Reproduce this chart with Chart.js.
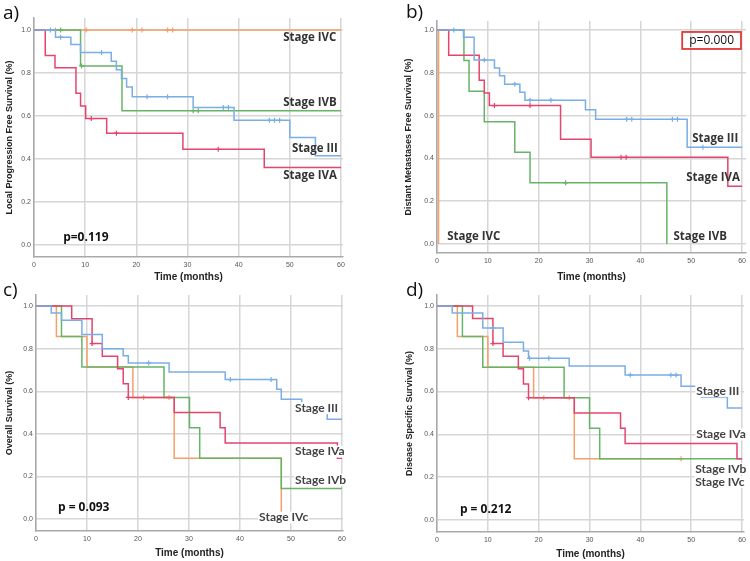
<!DOCTYPE html>
<html>
<head>
<meta charset="utf-8">
<script src="https://cdn.jsdelivr.net/npm/chart.js@4.4.1/dist/chart.umd.min.js"></script>
<style>
  body { margin: 0; background: #fff; }
  #wrap { position: relative; width: 750px; height: 561px; overflow: hidden; }
  canvas { position: absolute; }
  .tag { position: absolute; font: 19px "Open Sans", sans-serif; color: #111; line-height: 1; }
</style>
</head>
<body>
<div id="wrap">
  <canvas id="chartA" width="375" height="285" style="left:0;top:0"></canvas>
  <canvas id="chartB" width="375" height="285" style="left:375px;top:0"></canvas>
  <canvas id="chartC" width="375" height="281" style="left:0;top:280px"></canvas>
  <canvas id="chartD" width="375" height="281" style="left:375px;top:280px"></canvas>
  <div class="tag" style="left:3px;top:3px">a)</div>
  <div class="tag" style="left:406px;top:2px">b)</div>
  <div class="tag" style="left:3px;top:280px">c)</div>
  <div class="tag" style="left:406px;top:280px">d)</div>
</div>
<script>
// months where each curve steps, survival after the step, censored times

// a) local progression free survival
var a_III_t = [0, 4.2, 7.2, 9.1, 15.1, 16.1, 17.1, 18.1, 19.2, 31.1, 39.1, 50, 55, 60];
var a_III_s = [1, 0.967, 0.933, 0.895, 0.855, 0.815, 0.775, 0.735, 0.69, 0.64, 0.58, 0.5, 0.415, 0.415];
var a_III_c = [3.2, 5.2, 13.2, 22.1, 26.1, 37, 38, 46, 47, 48];
var a_IVA_t = [0, 2.2, 4.1, 8.2, 9.1, 10.1, 14.2, 29.1, 45, 60];
var a_IVA_s = [1, 0.882, 0.824, 0.706, 0.647, 0.588, 0.52, 0.445, 0.36, 0.36];
var a_IVA_c = [11.2, 16.1, 36];
var a_IVB_t = [0, 9.1, 17.2, 60];
var a_IVB_s = [1, 0.833, 0.625, 0.625];
var a_IVB_c = [5.2, 9.3, 31.1, 32.1];
var a_IVC_t = [0, 60];
var a_IVC_s = [1, 1];
var a_IVC_c = [4.2, 10.2, 19.2, 21.1, 26.1, 27.1];

// b) distant metastases free survival
var b_III_t = [0, 5.2, 7.3, 11.3, 12.3, 13.3, 16.3, 17.3, 29.2, 31.2, 49.2, 60];
var b_III_s = [1, 0.966, 0.86, 0.822, 0.786, 0.747, 0.709, 0.672, 0.627, 0.583, 0.452, 0.452];
var b_III_c = [3.3, 9.3, 15.3, 18.3, 22.4, 37.3, 38.3, 46.3, 47.3, 52.3];
var b_IVA_t = [0, 2.3, 8.3, 9.3, 10.3, 24.3, 30.3, 57.2, 60];
var b_IVA_s = [1, 0.882, 0.765, 0.706, 0.647, 0.49, 0.405, 0.27, 0.27];
var b_IVA_c = [11.3, 18.3, 36.2, 37.2];
var b_IVB_t = [0, 5.3, 6.3, 9.3, 15.3, 18.3, 45.2];
var b_IVB_s = [1, 0.857, 0.714, 0.571, 0.429, 0.286, 0];
var b_IVB_c = [25.3];
var b_IVC_t = [0, 0.3];
var b_IVC_s = [1, 0];
var b_IVC_c = [];

// c) overall survival
var c_III_t = [0, 3, 5, 9, 13, 17.1, 18.1, 26.1, 37.1, 47.2, 48.1, 52.1, 57.1, 60];
var c_III_s = [1, 0.967, 0.933, 0.867, 0.8, 0.767, 0.733, 0.69, 0.655, 0.61, 0.562, 0.515, 0.469, 0.469];
var c_III_c = [22.1, 38.1, 46.1];
var c_IVa_t = [0, 7, 11, 13, 16, 17.1, 18.1, 27.1, 36.1, 37.1, 59.1, 60];
var c_IVa_s = [1, 0.941, 0.824, 0.765, 0.706, 0.635, 0.571, 0.5, 0.429, 0.357, 0.286, 0.286];
var c_IVa_c = [11, 18.1];
var c_IVb_t = [0, 5, 9, 25.1, 30.1, 32.1, 48.1, 60];
var c_IVb_s = [1, 0.857, 0.714, 0.571, 0.429, 0.286, 0.143, 0.143];
var c_IVb_c = [];
var c_IVc_t = [0, 4, 10, 19, 27.1, 48.1];
var c_IVc_s = [1, 0.857, 0.714, 0.571, 0.286, 0];
var c_IVc_c = [21.1, 26.1];

// d) disease specific survival
var d_III_t = [0, 3, 9, 13, 17, 18, 26, 37, 48, 52, 57.1, 60];
var d_III_s = [1, 0.967, 0.897, 0.83, 0.79, 0.755, 0.719, 0.677, 0.625, 0.575, 0.523, 0.523];
var d_III_c = [11, 18.2, 22, 38, 46, 47];
var d_IVa_t = [0, 7, 11, 13, 16, 17, 18, 27, 36.1, 37, 59, 60];
var d_IVa_s = [1, 0.941, 0.824, 0.765, 0.706, 0.635, 0.571, 0.5, 0.429, 0.357, 0.286, 0.286];
var d_IVa_c = [11, 18];
var d_IVb_t = [0, 5, 9, 25, 30, 32, 60];
var d_IVb_s = [1, 0.857, 0.714, 0.571, 0.429, 0.286, 0.286];
var d_IVb_c = [];
var d_IVc_t = [0, 4, 10, 19, 27, 48];
var d_IVc_s = [1, 0.857, 0.714, 0.571, 0.286, 0.286];
var d_IVc_c = [21, 26, 48];

var blue = "#79aee6", red = "#e4456d", green = "#67b467", orange = "#f5a068";

function stepAt(t, s, x) {
  var v = s[0];
  for (var i = 0; i < t.length; i++) if (t[i] <= x) v = s[i];
  return v;
}

function curve(t, s, color) {
  return {
    data: t.map(function (x, i) { return {x: x, y: s[i]}; }),
    borderColor: color, borderWidth: 1.5, stepped: true,
    pointRadius: 0, fill: false
  };
}

// censor ticks sit on the curve
function marks(t, s, c, color) {
  return {
    data: c.map(function (x) { return {x: x, y: stepAt(t, s, x)}; }),
    showLine: false, pointStyle: "cross", pointRadius: 2.5,
    pointBorderWidth: 1.2, borderColor: color, backgroundColor: color
  };
}

function group(t, s, c, color) {
  return [curve(t, s, color), marks(t, s, c, color)];
}

var notesPlugin = {
  id: "notes",
  afterDatasetsDraw: function (chart, args, opts) {
    var ctx = chart.ctx, x = chart.scales.x, y = chart.scales.y;
    (opts.items || []).forEach(function (n) {
      ctx.save();
      ctx.font = n.font;
      ctx.textAlign = "left";
      ctx.textBaseline = "middle";
      var px = x.getPixelForValue(n.x), py = y.getPixelForValue(n.y);
      var w = ctx.measureText(n.text).width;
      if (n.bg) {
        ctx.fillStyle = "#fff";
        ctx.fillRect(px - 1, py - 6, w + 2, 12);
      }
      if (n.box) {
        ctx.strokeStyle = n.box;
        ctx.lineWidth = 1.8;
        ctx.strokeRect(px - 7, py - 8.5, w + 14, 17);
      }
      ctx.fillStyle = n.color;
      ctx.fillText(n.text, px, py);
      ctx.restore();
    });
  }
};

var boldLab = 'bold 11.5px "Open Sans"';
var thinLab = 'bold 12px Lato';
var pFont = 'bold 12px "Open Sans"';

function makeChart(id, geo, datasets, yTitle, notes) {
  return new Chart(document.getElementById(id), {
    type: "line",
    data: {datasets: datasets},
    options: {
      responsive: false,
      animation: false,
      layout: {padding: {left: geo.pl, top: geo.pt, right: geo.pr, bottom: 0}, autoPadding: false},
      plugins: {legend: {display: false}, tooltip: {enabled: false}, notes: {items: notes}},
      scales: {
        x: {
          type: "linear", min: 0, max: geo.xMax,
          afterFit: function (s) { s.height = geo.xh; },
          ticks: {stepSize: 10, includeBounds: false, maxRotation: 0, padding: 4,
                  font: {size: 7, family: "Liberation Sans"}, color: "#555"},
          grid: {color: "#d6d6d6", lineWidth: 1.5, drawTicks: false},
          border: {color: "#a9a9a9", width: 1.5},
          title: {display: true, text: "Time (months)", color: "#222",
                  font: {size: 10, weight: "bold", family: "Liberation Sans"},
                  padding: {top: 0, bottom: geo.xtb}}
        },
        y: {
          min: geo.yMin, max: geo.yMax,
          afterFit: function (s) { s.width = geo.yw; },
          ticks: {stepSize: 0.2, includeBounds: false, padding: 3,
                  font: {size: 7, family: "Liberation Sans"}, color: "#555",
                  callback: function (v) { return v.toFixed(1); }},
          grid: {color: "#d6d6d6", lineWidth: 1.5, drawTicks: false},
          border: {color: "#a9a9a9", width: 1.5},
          title: {display: true, text: yTitle, color: "#222",
                  font: {size: 9, weight: "bold", family: "Liberation Sans"},
                  padding: {top: geo.ytp, bottom: 0}}
        }
      }
    },
    plugins: [notesPlugin]
  });
}

makeChart("chartA",
  {pl: 0, pt: 18, pr: 32, yw: 34, xh: 28, xtb: 2, ytp: 4, xMax: 60.39, yMin: -0.056, yMax: 1.056},
  [].concat(group(a_III_t, a_III_s, a_III_c, blue), group(a_IVA_t, a_IVA_s, a_IVA_c, red),
            group(a_IVB_t, a_IVB_s, a_IVB_c, green), group(a_IVC_t, a_IVC_s, a_IVC_c, orange)),
  "Local Progression Free Survival (%)",
  [
    {text: "Stage IVC", x: 48.7, y: 0.965, font: boldLab, color: "#333"},
    {text: "Stage IVB", x: 48.7, y: 0.663, font: boldLab, color: "#333"},
    {text: "Stage III", x: 50.4, y: 0.449, font: boldLab, color: "#333"},
    {text: "Stage IVA", x: 48.7, y: 0.321, font: boldLab, color: "#333"},
    {text: "p=0.119", x: 5.7, y: 0.035, font: pFont, color: "#111"}
  ]);

makeChart("chartB",
  {pl: 26, pt: 21, pr: 3, yw: 36, xh: 32, xtb: 2, ytp: 2, xMax: 60.78, yMin: -0.042, yMax: 1.042},
  [].concat(group(b_III_t, b_III_s, b_III_c, blue), group(b_IVA_t, b_IVA_s, b_IVA_c, red),
            group(b_IVB_t, b_IVB_s, b_IVB_c, green), group(b_IVC_t, b_IVC_s, b_IVC_c, orange)),
  "Distant Metastases Free Survival (%)",
  [
    {text: "p=0.000", x: 49.6, y: 0.951, font: '12px "Open Sans"', color: "#111", box: "#e03a3a"},
    {text: "Stage III", x: 50.2, y: 0.49, font: boldLab, color: "#333"},
    {text: "Stage IVA", x: 49, y: 0.308, font: boldLab, color: "#333"},
    {text: "Stage IVC", x: 2.0, y: 0.035, font: boldLab, color: "#333"},
    {text: "Stage IVB", x: 46.5, y: 0.035, font: boldLab, color: "#333"}
  ]);

makeChart("chartC",
  {pl: 0, pt: 15, pr: 32, yw: 36, xh: 30, xtb: 2, ytp: 4.6, xMax: 60.2, yMin: -0.056, yMax: 1.052},
  [].concat(group(c_III_t, c_III_s, c_III_c, blue), group(c_IVa_t, c_IVa_s, c_IVa_c, red),
            group(c_IVb_t, c_IVb_s, c_IVb_c, green), group(c_IVc_t, c_IVc_s, c_IVc_c, orange)),
  "Overall Survival (%)",
  [
    {text: "Stage III", x: 50.8, y: 0.521, font: thinLab, color: "#444", bg: true},
    {text: "Stage IVa", x: 50.8, y: 0.317, font: thinLab, color: "#444", bg: true},
    {text: "Stage IVb", x: 50.8, y: 0.185, font: thinLab, color: "#444", bg: true},
    {text: "Stage IVc", x: 43.75, y: 0.007, font: thinLab, color: "#444", bg: true},
    {text: "p = 0.093", x: 4.3, y: 0.054, font: pFont, color: "#111"}
  ]);

makeChart("chartD",
  {pl: 26, pt: 15, pr: 5, yw: 36, xh: 29, xtb: 1, ytp: 3.6, xMax: 60.4, yMin: -0.056, yMax: 1.051},
  [].concat(group(d_III_t, d_III_s, d_III_c, blue), group(d_IVa_t, d_IVa_s, d_IVa_c, red),
            group(d_IVb_t, d_IVb_s, d_IVb_c, green), group(d_IVc_t, d_IVc_s, d_IVc_c, orange)),
  "Disease Specific Survival (%)",
  [
    {text: "Stage III", x: 51, y: 0.603, font: thinLab, color: "#444", bg: true},
    {text: "Stage IVa", x: 51, y: 0.40, font: thinLab, color: "#444", bg: true},
    {text: "Stage IVb", x: 50.8, y: 0.238, font: thinLab, color: "#444", bg: true},
    {text: "Stage IVc", x: 50.8, y: 0.178, font: thinLab, color: "#444", bg: true},
    {text: "p = 0.212", x: 4.5, y: 0.049, font: pFont, color: "#111"}
  ]);
</script>
</body>
</html>
